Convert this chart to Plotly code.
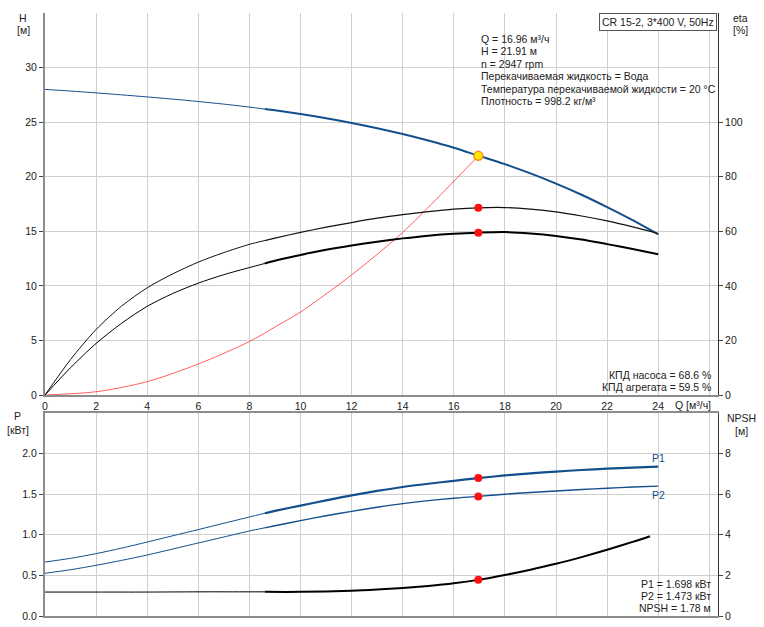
import plotly.graph_objects as go

# ---------------- data ----------------
Q = [0, 1, 2, 3, 4, 5, 6, 7, 8, 8.6, 9, 10, 11, 12, 13, 14, 15, 16, 16.96, 18, 19, 20, 21, 22, 23, 24]
H = [28.0, 27.85, 27.68, 27.5, 27.31, 27.11, 26.89, 26.65, 26.38, 26.2, 26.08, 25.74, 25.36, 24.93, 24.45,
     23.91, 23.31, 22.65, 21.93, 21.15, 20.3, 19.37, 18.35, 17.22, 16.02, 14.72]
ETA_PUMP = [0, 13.0, 24.0, 32.6, 39.3, 44.4, 48.7, 52.2, 55.2, 56.6, 57.5, 59.6, 61.5, 63.2, 64.8,
            66.1, 67.2, 68.1, 68.6, 68.7, 68.1, 67.1, 65.6, 63.8, 61.6, 59.2]
ETA_TOTAL = [0, 10.0, 18.9, 26.3, 32.5, 37.2, 41.0, 44.1, 46.7, 48.2, 49.2, 51.3, 53.2, 54.8, 56.2,
             57.4, 58.4, 59.1, 59.5, 59.7, 59.2, 58.3, 57.0, 55.3, 53.5, 51.6]
P1 = [0.665, 0.71, 0.768, 0.836, 0.911, 0.988, 1.064, 1.142, 1.219, 1.265, 1.295, 1.36, 1.424, 1.486,
      1.54, 1.589, 1.629, 1.665, 1.698, 1.731, 1.757, 1.779, 1.798, 1.814, 1.828, 1.84]
P2 = [0.526, 0.57, 0.624, 0.685, 0.751, 0.825, 0.899, 0.973, 1.047, 1.086, 1.112, 1.175, 1.235, 1.289,
      1.339, 1.384, 1.421, 1.451, 1.473, 1.5, 1.521, 1.54, 1.558, 1.574, 1.588, 1.60]
Q_NPSH = [0, 2, 4, 6, 8, 8.6, 10, 12, 13, 14, 15, 16, 16.96, 18, 19, 20, 21, 22, 23, 23.68]
NPSH = [1.18, 1.18, 1.18, 1.19, 1.19, 1.19, 1.19, 1.24, 1.3, 1.38, 1.48, 1.61, 1.78, 2.02, 2.28,
        2.57, 2.9, 3.26, 3.65, 3.93]
SYS_Q = [0, 2, 4, 6, 8, 9.2, 10, 12, 14, 16.96]
SYS_H = [0, 0.3, 1.22, 2.84, 4.9, 6.5, 7.6, 11.0, 14.9, 21.91]
Q_MIN_OP = 8.6

OP_Q, OP_H, OP_ETA_P, OP_ETA_T = 16.96, 21.91, 68.6, 59.5
OP_P1, OP_P2, OP_NPSH = 1.698, 1.473, 1.78

X_TICKS = [0, 2, 4, 6, 8, 10, 12, 14, 16, 18, 20, 22, 24, 26]
X_TICKTEXT = ["0", "2", "4", "6", "8", "10", "12", "14", "16", "18", "20", "22", "24", ""]
H_TICKS = [0, 5, 10, 15, 20, 25, 30]
ETA_TICKS = [0, 20, 40, 60, 80, 100]
P_TICKS = [0, 0.5, 1.0, 1.5, 2.0]
NPSH_TICKS = [0, 2, 4, 6, 8]

INFO_LINES = ["Q = 16.96 м³/ч", "H = 21.91 м", "n = 2947 rpm",
              "Перекачиваемая жидкость = Вода",
              "Температура перекачиваемой жидкости = 20 °C",
              "Плотность = 998.2 кг/м³"]
KPD_LINES = ["КПД насоса = 68.6 %", "КПД агрегата = 59.5 %"]
P_LINES = ["P1 = 1.698 кВт", "P2 = 1.473 кВт", "NPSH = 1.78 м"]
TITLE_BOX = "CR 15-2, 3*400 V, 50Hz"

# ---------------- style ----------------
BLUE = "#134f8c"
FONT = "Liberation Sans, Arial, sans-serif"
FS = 10.5
GRID = "#cfcfcf"
AXGRAY = "#8c8c8c"
W, HGT = 764, 627
ML, MR, MT, MB = 45, 46, 13, 11
PW, PH = W - ML - MR, HGT - MT - MB


def px(x):
    return (x - ML) / PW


def py(y):
    return (HGT - MB - y) / PH


def split(xs, ys, lim):
    a = [(x, y) for x, y in zip(xs, ys) if x <= lim]
    b = [(x, y) for x, y in zip(xs, ys) if x >= lim]
    return [p[0] for p in a], [p[1] for p in a], [p[0] for p in b], [p[1] for p in b]


fig = go.Figure()


def line(xs, ys, color, width, xa, ya):
    lo_x, lo_y, hi_x, hi_y = split(xs, ys, Q_MIN_OP)
    fig.add_trace(go.Scatter(x=lo_x, y=lo_y, mode="lines",
                             line=dict(color=color, width=1, shape="spline", smoothing=0.8),
                             xaxis=xa, yaxis=ya, hoverinfo="skip", showlegend=False))
    fig.add_trace(go.Scatter(x=hi_x, y=hi_y, mode="lines",
                             line=dict(color=color, width=width, shape="spline", smoothing=0.8),
                             xaxis=xa, yaxis=ya, hoverinfo="skip", showlegend=False))


# top plot
line(Q, ETA_PUMP, "#111111", 1.2, "x", "y2")
line(Q, ETA_TOTAL, "#000000", 2.0, "x", "y2")
fig.add_trace(go.Scatter(x=SYS_Q, y=SYS_H, mode="lines",
                         line=dict(color="rgba(255,40,40,0.75)", width=1, shape="spline", smoothing=0.8),
                         xaxis="x", yaxis="y", hoverinfo="skip", showlegend=False))
line(Q, H, BLUE, 2.0, "x", "y")
fig.add_trace(go.Scatter(x=[OP_Q, OP_Q], y=[OP_ETA_P, OP_ETA_T], mode="markers",
                         marker=dict(color="#ff1010", size=8), xaxis="x", yaxis="y2",
                         hoverinfo="skip", showlegend=False))
fig.add_trace(go.Scatter(x=[OP_Q], y=[OP_H], mode="markers",
                         marker=dict(color="#ffe600", size=9, line=dict(color="#ff8c1a", width=1.5)),
                         xaxis="x", yaxis="y", hoverinfo="skip", showlegend=False))

# bottom plot
line(Q_NPSH, NPSH, "#000000", 2.0, "x2", "y4")
line(Q, P2, BLUE, 1.4, "x2", "y3")
line(Q, P1, BLUE, 2.2, "x2", "y3")
fig.add_trace(go.Scatter(x=[OP_Q, OP_Q], y=[OP_P1, OP_P2], mode="markers",
                         marker=dict(color="#ff1010", size=8), xaxis="x2", yaxis="y3",
                         hoverinfo="skip", showlegend=False))
fig.add_trace(go.Scatter(x=[OP_Q], y=[OP_NPSH], mode="markers",
                         marker=dict(color="#ff1010", size=8), xaxis="x2", yaxis="y4",
                         hoverinfo="skip", showlegend=False))

TOP_DOM = [py(395), 1.0]
BOT_DOM = [0.0, py(413)]
XR = [0, (718 - ML) / 25.55]
tickfont = dict(family=FONT, size=FS, color="#222222")

common_x = dict(range=XR, tickvals=X_TICKS, showgrid=True, gridcolor=GRID, gridwidth=1,
                zeroline=False, ticks="", tickfont=tickfont, fixedrange=True, automargin=False)
common_y = dict(zeroline=False, ticks="outside", ticklen=4, tickcolor="#444444", tickfont=tickfont,
                automargin=False, fixedrange=True)
fig.update_layout(
    xaxis=dict(**common_x, ticktext=X_TICKTEXT, domain=[0, 1], anchor="y",
               showline=True, linecolor=AXGRAY, linewidth=2),
    xaxis2=dict(**common_x, domain=[0, 1], anchor="y3", showticklabels=False,
                showline=True, mirror=True, linecolor=AXGRAY, linewidth=2),
    yaxis=dict(**common_y, range=[0, 35], domain=TOP_DOM, tickvals=H_TICKS, showgrid=True, gridcolor=GRID,
               showline=True, linecolor=AXGRAY, linewidth=2, anchor="x"),
    yaxis2=dict(**common_y, range=[0, 140], overlaying="y", side="right", tickvals=ETA_TICKS, showgrid=False,
                showline=True, linecolor="#333333", linewidth=1, anchor="x"),
    yaxis3=dict(**common_y, range=[0, 2.5], domain=BOT_DOM, tickvals=P_TICKS, tickformat=".1f", showgrid=True,
                gridcolor=GRID, showline=True, linecolor=AXGRAY, linewidth=2, anchor="x2"),
    yaxis4=dict(**common_y, range=[0, 10], overlaying="y3", side="right", tickvals=NPSH_TICKS, showgrid=False,
                showline=True, linecolor="#333333", linewidth=1, anchor="x2"),
    width=W, height=HGT,
    margin=dict(l=ML, r=MR, t=MT, b=MB, autoexpand=False),
    plot_bgcolor="white", paper_bgcolor="white",
    font=dict(family=FONT, size=FS, color="#222222"),
    showlegend=False,
)

ann = []


def txt(text, x, y, xanchor="left", color="#222222"):
    ann.append(dict(text=text, x=px(x), y=py(y), xref="paper", yref="paper", xanchor=xanchor,
                    yanchor="middle", showarrow=False, font=dict(family=FONT, size=FS, color=color)))


for i, s in enumerate(INFO_LINES):
    txt(s, 479, 39 + i * 12.4)
for i, s in enumerate(KPD_LINES):
    txt(s, 713, 375 + i * 11.5, xanchor="right")
for i, s in enumerate(P_LINES):
    txt(s, 713, 584 + i * 12, xanchor="right")

txt("H", 23, 18, xanchor="center")
txt("[м]", 23, 30, xanchor="center")
txt("eta", 740, 18, xanchor="center")
txt("[%]", 740, 30, xanchor="center")
txt("P", 18, 416, xanchor="center")
txt("[кВт]", 18, 430, xanchor="center")
txt("NPSH", 741, 418, xanchor="center")
txt("[м]", 741, 431, xanchor="center")
txt("Q [м³/ч]", 713, 405, xanchor="right")

ann.append(dict(text=TITLE_BOX, x=px(717), y=1.0, xref="paper", yref="paper", xanchor="right",
                yanchor="top", showarrow=False, bordercolor="#555555", borderwidth=1, borderpad=2,
                bgcolor="white", font=dict(family=FONT, size=FS, color="#222222")))

ann.append(dict(text="P1", x=Q[-1], y=P1[-1], xref="x2", yref="y3", xanchor="center", yanchor="bottom",
                yshift=1, showarrow=False, font=dict(family=FONT, size=FS, color=BLUE)))
ann.append(dict(text="P2", x=Q[-1], y=P2[-1], xref="x2", yref="y3", xanchor="center", yanchor="top",
                yshift=-1, showarrow=False, font=dict(family=FONT, size=FS, color=BLUE)))

fig.update_layout(annotations=ann)
fig.write_html("out.html", config={"displayModeBar": False},
               post_script="document.body.style.margin='0';document.body.style.padding='0';")
